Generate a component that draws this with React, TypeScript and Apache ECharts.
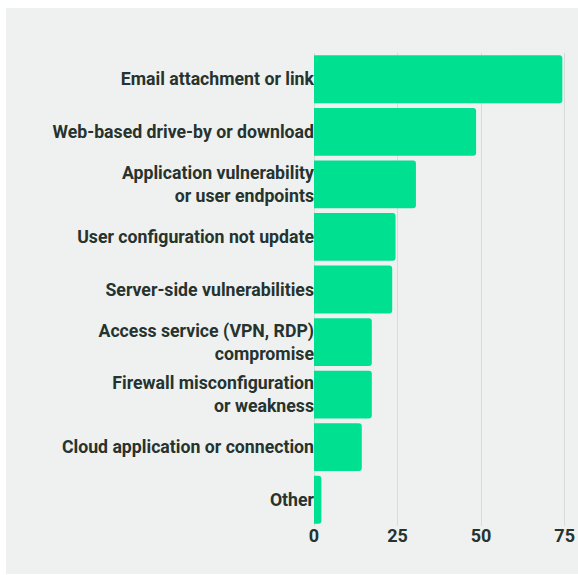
import React, { useEffect, useRef } from "react";
import * as echarts from "echarts";

const categories = [
  "Email attachment or link",
  "Web-based drive-by or download",
  "Application vulnerability\nor user endpoints",
  "User configuration not update",
  "Server-side vulnerabilities",
  "Access service (VPN, RDP)\ncompromise",
  "Firewall misconfiguration\nor weakness",
  "Cloud application or connection",
  "Other",
];
const values = [74.3, 48.5, 30.5, 24.4, 23.4, 17.3, 17.3, 14.3, 2.2];
const xTicks = [0, 25, 50, 75];

const TEXT = "#26332e";
const FONT = "Roboto, 'Liberation Sans', Arial, sans-serif";

export default function App() {
  const ref = useRef<HTMLDivElement>(null);
  useEffect(() => {
    if (!ref.current) return;
    const chart = echarts.init(ref.current, undefined, { renderer: "svg" });
    chart.setOption({
      animation: false,
      backgroundColor: "#eff1f0",
      grid: { left: 308, right: 11, top: 45, bottom: 48, containLabel: false },
      xAxis: {
        type: "value",
        min: xTicks[0],
        max: xTicks[xTicks.length - 1],
        interval: 25,
        axisLine: { show: false },
        axisTick: { show: false },
        splitLine: { show: true, lineStyle: { color: "#d9dbda", width: 1 } },
        axisLabel: {
          color: TEXT,
          fontWeight: "bold",
          fontSize: 18,
          fontFamily: FONT,
          margin: 0,
        },
      },
      yAxis: {
        type: "category",
        inverse: true,
        data: categories,
        axisLine: { show: false },
        axisTick: { show: false },
        splitLine: { show: false },
        axisLabel: {
          color: TEXT,
          fontWeight: "bold",
          fontSize: 17.7,
          fontFamily: FONT,
          lineHeight: 23,
          margin: 0,
          align: "right",
        },
      },
      series: [
        {
          type: "bar",
          data: values,
          barCategoryGap: "9%",
          itemStyle: { color: "#00e091", borderRadius: [0, 3, 3, 0] },
        },
      ],
    });
    return () => chart.dispose();
  }, []);
  return (
    <div
      ref={ref}
      style={{ position: "absolute", left: 6, top: 8, width: 572, height: 566 }}
    />
  );
}
